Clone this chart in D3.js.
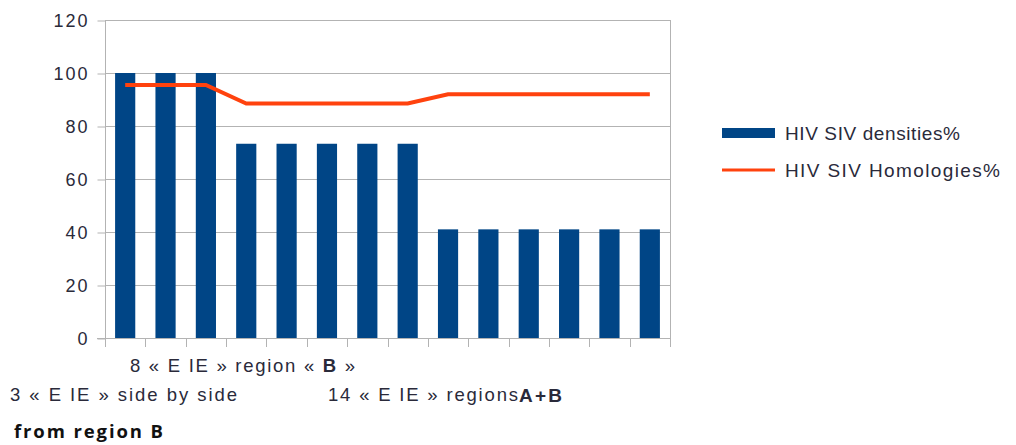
<!DOCTYPE html>
<html><head><meta charset="utf-8">
<script src="https://cdn.jsdelivr.net/npm/d3@7"></script>
<style>body{margin:0;background:#fff}svg{display:block}text{font-family:"Liberation Sans",Arial,sans-serif}</style>
</head><body><svg id="c" width="1016" height="445"></svg>
<script>
const categories = ["1","2","3","4","5","6","7","8","9","10","11","12","13","14"];
const densities = [100,100,100,73.3,73.3,73.3,73.3,73.3,41,41,41,41,41,41];
const homologies = [95.5,95.5,95.5,88.5,88.5,88.5,88.5,88.5,92,92,92,92,92,92];
const yTicks = [0,20,40,60,80,100,120];
const seriesNames = ["HIV SIV densities%","HIV SIV Homologies%"];

const svg = d3.select("#c");
const L=105, R=670, T=20, B=338;
const x = d3.scaleBand().domain(categories).range([L,R]).paddingInner(0.5).paddingOuter(0.25);
const xb = d3.scaleBand().domain(categories).range([L,R]);
const y = d3.scaleLinear().domain([0,120]).range([B,T]);

// grid
svg.append("g").selectAll("line").data(yTicks.filter(d=>d>0)).join("line")
  .attr("x1",L).attr("x2",R).attr("y1",d=>y(d)+0.5).attr("y2",d=>y(d)+0.5)
  .attr("stroke","#b3b3b3").attr("stroke-width",1);
svg.append("line").attr("x1",R+0.5).attr("x2",R+0.5).attr("y1",T).attr("y2",B).attr("stroke","#b3b3b3");

// y axis
const ya = svg.append("g").attr("transform",`translate(${L+0.5},0)`).call(d3.axisLeft(y).tickValues(yTicks).tickSize(8).tickPadding(8));
ya.select(".domain").attr("stroke","#b3b3b3").attr("d",`M0,${T}V${B}`);
ya.selectAll(".tick line").attr("stroke","#b3b3b3").attr("transform","translate(0,0.5)");
ya.selectAll("text").attr("font-size",18).attr("fill","#2a2a3a").attr("letter-spacing",2)
  .attr("font-family","Liberation Sans, Arial, sans-serif").attr("dy","0.36em");

// bars
svg.append("g").selectAll("rect").data(densities).join("rect")
  .attr("x",(d,i)=>x(categories[i])).attr("width",x.bandwidth())
  .attr("y",d=>y(d)).attr("height",d=>B-y(d)).attr("fill","#004586");

// x axis
const boundaries = categories.map(c=>xb(c)).concat([R]);
svg.append("line").attr("x1",L-8).attr("x2",R).attr("y1",B+0.5).attr("y2",B+0.5).attr("stroke","#b3b3b3");
svg.append("g").selectAll("line").data(boundaries).join("line")
  .attr("x1",d=>Math.round(d)+0.5).attr("x2",d=>Math.round(d)+0.5).attr("y1",B).attr("y2",B+9).attr("stroke","#b3b3b3");

// line
const line = d3.line().x((d,i)=>xb(categories[i])+xb.bandwidth()/2).y(d=>y(d));
svg.append("path").datum(homologies).attr("d",line).attr("fill","none").attr("stroke","#ff420e").attr("stroke-width",4);

// legend
const legW = [175,215];
svg.append("rect").attr("x",722).attr("y",128).attr("width",53).attr("height",10).attr("fill","#004586");
svg.append("line").attr("x1",722).attr("x2",775).attr("y1",170).attr("y2",170).attr("stroke","#ff420e").attr("stroke-width",3);
svg.append("g").selectAll("text").data(seriesNames).join("text")
  .attr("x",785).attr("y",(d,i)=>140+i*37).attr("font-size",19).attr("fill","#2a2a3a")
  .attr("textLength",(d,i)=>legW[i]).attr("lengthAdjust","spacing").text(d=>d);

// annotations
const t1 = svg.append("text").attr("x",130).attr("y",372).attr("font-size",18.5).attr("fill","#2a2a3a")
  .attr("textLength",225).attr("lengthAdjust","spacing");
t1.append("tspan").text("8 « E IE  » region « ");
t1.append("tspan").attr("font-weight","bold").text("B");
t1.append("tspan").text(" »");
svg.append("text").attr("x",10).attr("y",401).attr("font-size",18.5).attr("fill","#2a2a3a")
  .attr("textLength",227).attr("lengthAdjust","spacing").text("3 « E IE  » side by side");
svg.append("text").attr("x",328).attr("y",401).attr("font-size",18.5).attr("fill","#2a2a3a")
  .attr("textLength",190).attr("lengthAdjust","spacing").text("14 « E IE  » regions");
svg.append("text").attr("x",519).attr("y",402).attr("font-size",19).attr("font-weight","bold").attr("fill","#2a2a3a")
  .attr("textLength",43).attr("lengthAdjust","spacing").text("A+B");
svg.append("text").attr("x",14).attr("y",438).attr("font-size",18.5).attr("font-weight","bold").attr("fill","#111")
  .attr("textLength",149).attr("lengthAdjust","spacing")
  .style("font-family","'Open Sans',sans-serif").text("from region B");
</script></body></html>
